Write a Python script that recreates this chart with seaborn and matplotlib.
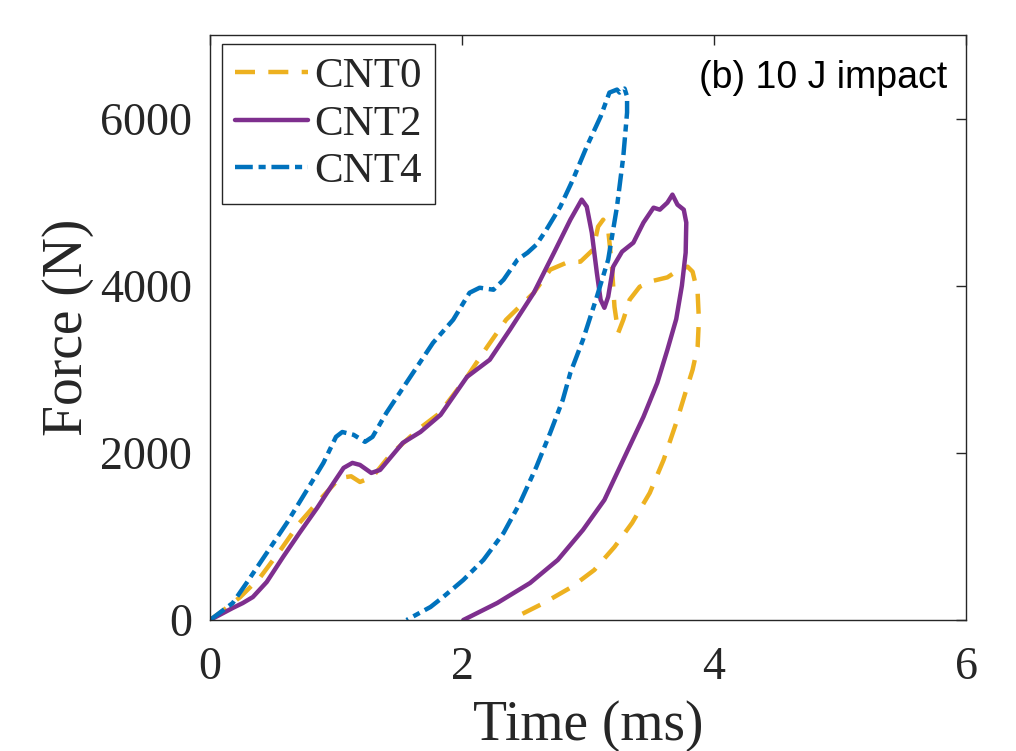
import pandas as pd
import matplotlib.pyplot as plt
import seaborn as sns

# Force-time loops (time in ms, force in N)
cnt0_t = [0.0, 0.10, 0.24, 0.40, 0.56, 0.71, 0.87, 1.03, 1.12, 1.19, 1.29, 1.43, 1.66, 1.82,
          2.04, 2.20, 2.35, 2.57, 2.70, 2.83, 2.94, 3.04, 3.08, 3.12, 3.16, 3.19, 3.21, 3.24,
          3.28, 3.33, 3.41, 3.52, 3.63, 3.71, 3.79, 3.83, 3.87, 3.88, 3.87, 3.83, 3.78, 3.70,
          3.60, 3.49, 3.35, 3.21, 3.05, 2.87, 2.65, 2.46, 2.42]
cnt0_f = [0, 110, 275, 515, 838, 1162, 1437, 1700, 1720, 1652, 1712, 1976, 2289, 2472,
          2910, 3269, 3593, 3916, 4192, 4276, 4288, 4431, 4707, 4790, 4671, 4228, 3748, 3437,
          3593, 3832, 3988, 4060, 4100, 4180, 4228, 4168, 3916, 3593, 3269, 2994, 2754, 2359,
          1916, 1521, 1162, 874, 599, 395, 204, 60, 0]

cnt2_t = [0.0, 0.18, 0.26, 0.34, 0.45, 0.58, 0.71, 0.85, 0.98, 1.06, 1.13, 1.19, 1.28, 1.35,
          1.43, 1.53, 1.67, 1.83, 2.04, 2.22, 2.38, 2.57, 2.73, 2.86, 2.95, 2.99, 3.03, 3.07,
          3.10, 3.13, 3.16, 3.20, 3.27, 3.36, 3.44, 3.52, 3.57, 3.63, 3.67, 3.71, 3.76, 3.78,
          3.775, 3.745, 3.70, 3.63, 3.55, 3.44, 3.29, 3.13, 2.96, 2.76, 2.54, 2.28, 2.01]
cnt2_f = [0, 144, 203, 275, 455, 755, 1042, 1341, 1640, 1820, 1880, 1856, 1760, 1796,
          1940, 2120, 2250, 2455, 2910, 3114, 3473, 3916, 4395, 4790, 5030, 4946, 4635, 4156,
          3832, 3736, 3868, 4228, 4407, 4515, 4755, 4934, 4910, 4994, 5090, 4970, 4910, 4755,
          4395, 4000, 3600, 3233, 2838, 2431, 1950, 1437, 1078, 719, 443, 204, 0]

cnt4_t = [0.0, 0.18, 0.29, 0.45, 0.61, 0.77, 0.90, 1.00, 1.05, 1.14, 1.23, 1.29, 1.40, 1.59,
          1.77, 1.93, 2.06, 2.14, 2.25, 2.33, 2.44, 2.52, 2.59, 2.67, 2.78, 2.88, 2.99, 3.10,
          3.17, 3.23, 3.25, 3.29, 3.31, 3.31, 3.28, 3.23, 3.16, 3.07, 2.96, 2.86, 2.80, 2.70,
          2.59, 2.46, 2.33, 2.17, 2.01, 1.85, 1.75, 1.56]
cnt4_f = [0, 203, 443, 802, 1162, 1557, 1880, 2192, 2250, 2216, 2132, 2192, 2479, 2910,
          3317, 3593, 3916, 3976, 3952, 4072, 4311, 4395, 4491, 4671, 4946, 5269, 5665, 6024,
          6311, 6347, 6311, 6359, 6263, 6072, 5545, 4946, 4311, 3868, 3353, 2958, 2635, 2240,
          1832, 1401, 1042, 719, 479, 275, 156, 0]

labels = ["CNT0", "CNT2", "CNT4"]
x_ticks = [0, 2, 4, 6]
y_ticks = [0, 2000, 4000, 6000]

frames = []
for name, t, f in zip(labels, [cnt0_t, cnt2_t, cnt4_t], [cnt0_f, cnt2_f, cnt4_f]):
    frames.append(pd.DataFrame({"Time": t, "Force": f, "Sample": name}))
df = pd.concat(frames, ignore_index=True)

sns.set_style("white")
plt.rcParams["font.family"] = ["Liberation Serif", "DejaVu Serif"]

palette = {"CNT0": "#EDB120", "CNT2": "#7E2F8E", "CNT4": "#0072BD"}
dashes = {"CNT0": (4.5, 3), "CNT2": "", "CNT4": (4, 1.3, 1.6, 1.3)}

fig = plt.figure(figsize=(10.16, 7.51), dpi=100)
ax = fig.add_axes([0.2067, 0.1744, 0.7441, 0.779])

sns.lineplot(data=df, x="Time", y="Force", hue="Sample", style="Sample",
             palette=palette, dashes=dashes, sort=False, estimator=None,
             linewidth=3.2, ax=ax)

ax.set_xlim(0, 6)
ax.set_ylim(0, 7000)
ax.set_xticks(x_ticks)
ax.set_yticks(y_ticks)
ax.tick_params(direction="in", length=7, width=1, labelsize=33, colors="#262626",
               top=True, right=True)
ax.tick_params(axis="x", pad=19)
ax.tick_params(axis="y", pad=13)
for s in ax.spines.values():
    s.set_color("#262626")
    s.set_linewidth(1)
ax.set_xlabel("Time (ms)", fontsize=40, color="#262626", labelpad=8)
ax.set_ylabel("Force (N)", fontsize=40, color="#262626", labelpad=4)

leg = ax.legend(loc="upper left", bbox_to_anchor=(0.016, 0.985), fontsize=31,
                handlelength=1.7, handletextpad=0.15, labelspacing=0.2,
                borderpad=0.3, borderaxespad=0, fancybox=False, framealpha=1)
leg.get_frame().set_edgecolor("#262626")
leg.get_frame().set_linewidth(1)

ax.text(0.975, 0.9265, "(b) 10 J impact", transform=ax.transAxes, ha="right", va="center",
        fontsize=27, family=["Liberation Sans", "DejaVu Sans"], color="black")

fig.savefig("out.png", dpi=100)
